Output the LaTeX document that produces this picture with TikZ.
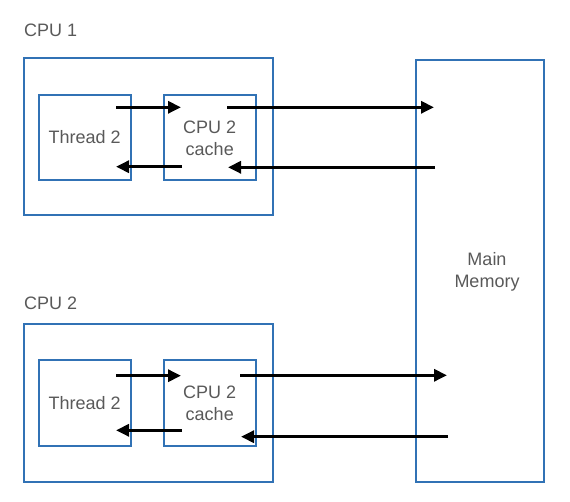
\documentclass[tikz,border=0pt]{standalone}
\usepackage{fontspec}
\setmainfont{Liberation Sans}
\usetikzlibrary{arrows.meta}
\definecolor{boxblue}{HTML}{3172B5}
\definecolor{txtgray}{HTML}{595959}
\begin{document}
\begin{tikzpicture}[x=1pt,y=-1pt,
  font=\fontsize{18}{22}\selectfont,
  box/.style={draw=boxblue,line width=2pt},
  lbl/.style={text=txtgray,align=center,inner sep=0pt},
  conn/.style={line width=3pt,-{Triangle[length=13pt,width=12pt]}}]
\useasboundingbox (0,0) rectangle (570,502);
% frames
\draw[box] (24,58) rectangle (273,215);
\draw[box] (24,324) rectangle (273,482);
\draw[box] (416,60) rectangle (544,482);
\draw[box] (38.5,95) rectangle (131,180);
\draw[box] (163.5,95) rectangle (256,180);
\draw[box] (38.5,360) rectangle (131,446);
\draw[box] (163.5,360) rectangle (256,446);
% labels
\node[lbl,anchor=west] (cpu1) at (24,30) {CPU 1};
\node[lbl,anchor=west] (cpu2) at (24,303) {CPU 2};
\node[lbl] (t1) at (84.75,137.5) {Thread 2};
\node[lbl] (c1) at (209.75,138) {CPU 2\\cache};
\node[lbl] (t2) at (84.75,403) {Thread 2};
\node[lbl] (c2) at (209.75,403) {CPU 2\\cache};
\node[lbl] (mem) at (487,272) {Main\\Memory};
% arrow anchors
\coordinate (a1s) at (116,107.3); \coordinate (a1e) at (181,107.3);
\coordinate (b1s) at (182,166.7); \coordinate (b1e) at (116,166.7);
\coordinate (m1s) at (227,107.3); \coordinate (m1e) at (434,107.3);
\coordinate (n1s) at (435,167.3); \coordinate (n1e) at (228,167.3);
\coordinate (a2s) at (116,375.7); \coordinate (a2e) at (181,375.7);
\coordinate (b2s) at (182,430.3); \coordinate (b2e) at (116,430.3);
\coordinate (m2s) at (240,375.3); \coordinate (m2e) at (447,375.3);
\coordinate (n2s) at (448,436.7); \coordinate (n2e) at (241,436.7);
\draw[conn] (a1s) -- (a1e);
\draw[conn] (b1s) -- (b1e);
\draw[conn] (m1s) -- (m1e);
\draw[conn] (n1s) -- (n1e);
\draw[conn] (a2s) -- (a2e);
\draw[conn] (b2s) -- (b2e);
\draw[conn] (m2s) -- (m2e);
\draw[conn] (n2s) -- (n2e);
\end{tikzpicture}
\end{document}
